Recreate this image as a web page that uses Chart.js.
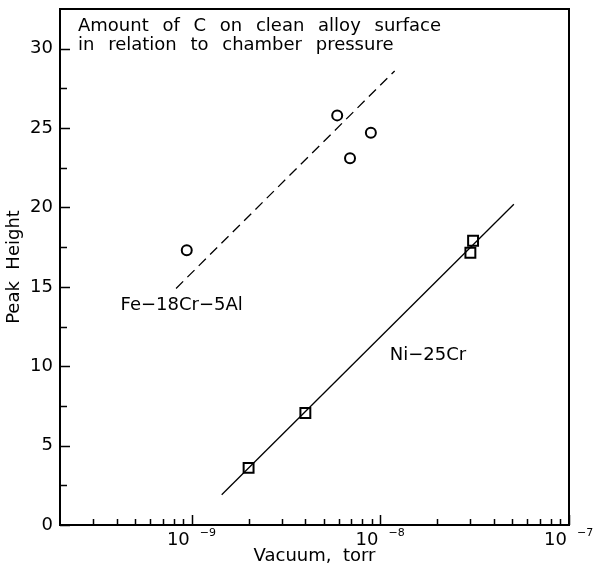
<!DOCTYPE html>
<html><head><meta charset="utf-8">
<script src="https://cdn.jsdelivr.net/npm/chart.js@4.4.1/dist/chart.umd.min.js"></script>
<style>html,body{margin:0;padding:0;background:#fff;} #wrap{width:593px;height:567px;position:relative}</style>
</head><body><div id="wrap"><canvas id="c"></canvas></div>
<script>
// ---- data ----
const feVacuum = [9.4e-10, 5.9e-9, 6.9e-9, 8.9e-9];
const fePeak = [17.3, 25.8, 23.1, 24.7];
const feFitVacuum = [8.25e-10, 1.19e-8];
const feFitPeak = [14.9, 28.6];
const niVacuum = [2.0e-9, 4.0e-9, 3.0e-8, 3.1e-8];
const niPeak = [3.6, 7.05, 17.15, 17.9];
const niFitVacuum = [1.44e-9, 5.1e-8];
const niFitPeak = [1.9, 20.2];

const xMajorTicks = [1e-9, 1e-8, 1e-7];
const xMajorExponents = ['\u22129', '\u22128', '\u22127'];
const xMinorTicks = [3e-10, 4e-10, 5e-10, 6e-10, 7e-10, 8e-10, 9e-10,
  2e-9, 3e-9, 4e-9, 5e-9, 6e-9, 7e-9, 8e-9, 9e-9,
  2e-8, 3e-8, 4e-8, 5e-8, 6e-8, 7e-8, 8e-8, 9e-8];
const yMajorTicks = [0, 5, 10, 15, 20, 25, 30];
const yMinorTicks = [2.5, 7.5, 12.5, 17.5, 22.5, 27.5];

const titleLines = ['Amount of C on clean alloy surface', 'in relation to chamber pressure'];
const seriesLabels = [
  {text: 'Fe\u221218Cr\u22125Al', x: 4.19e-10, y: 13.57},
  {text: 'Ni\u221225Cr', x: 1.12e-8, y: 10.4}
];
const xTitle = 'Vacuum,  torr';
const yTitle = 'Peak  Height';

const FONT = '"DejaVu Sans", sans-serif';
const toPts = (xs, ys) => xs.map((x, i) => ({x: x, y: ys[i]}));

const decor = {
  id: 'decor',
  afterDraw(chart) {
    const ctx = chart.ctx, a = chart.chartArea;
    const xs = chart.scales.x, ys = chart.scales.y;
    ctx.save();
    ctx.strokeStyle = '#000';
    ctx.fillStyle = '#000';
    // inward tick marks
    ctx.lineWidth = 1.5;
    ctx.beginPath();
    xMinorTicks.forEach(v => { const p = Math.round(xs.getPixelForValue(v)) + 0.5; ctx.moveTo(p, a.bottom); ctx.lineTo(p, a.bottom - 6); });
    xMajorTicks.forEach(v => { const p = Math.round(xs.getPixelForValue(v)) + 0.5; ctx.moveTo(p, a.bottom); ctx.lineTo(p, a.bottom - 10); });
    yMinorTicks.forEach(v => { const p = Math.round(ys.getPixelForValue(v)) + 0.5; ctx.moveTo(a.left, p); ctx.lineTo(a.left + 7, p); });
    yMajorTicks.forEach(v => { const p = Math.round(ys.getPixelForValue(v)) + 0.5; ctx.moveTo(a.left, p); ctx.lineTo(a.left + 10, p); });
    ctx.stroke();
    // frame
    ctx.lineWidth = 2;
    ctx.strokeRect(a.left, a.top, a.right - a.left, a.bottom - a.top);
    // x tick labels 10^n
    xMajorTicks.forEach((v, i) => {
      const p = xs.getPixelForValue(v);
      ctx.font = '18px ' + FONT;
      ctx.textAlign = 'right'; ctx.textBaseline = 'alphabetic';
      ctx.fillText('10', p - 2, a.bottom + 20);
      ctx.font = '11px ' + FONT;
      ctx.textAlign = 'left';
      ctx.fillText(xMajorExponents[i], p + 8, a.bottom + 11);
    });
    // title inside plot
    ctx.font = '18px ' + FONT;
    ctx.textAlign = 'left'; ctx.textBaseline = 'alphabetic';
    try { ctx.wordSpacing = '8px'; } catch (e) {}
    titleLines.forEach((t, i) => ctx.fillText(t, a.left + 18, a.top + 22 + i * 19));
    try { ctx.wordSpacing = '0px'; } catch (e) {}
    // series labels
    ctx.font = '18px ' + FONT;
    seriesLabels.forEach(l => ctx.fillText(l.text, xs.getPixelForValue(l.x), ys.getPixelForValue(l.y)));
    ctx.restore();
  }
};

new Chart(document.getElementById('c'), {
  type: 'scatter',
  data: {
    datasets: [
      {label: 'Fe-18Cr-5Al fit', data: toPts(feFitVacuum, feFitPeak), showLine: true, borderColor: '#000', borderWidth: 1.3, borderDash: [10, 6], pointRadius: 0},
      {label: 'Ni-25Cr fit', data: toPts(niFitVacuum, niFitPeak), showLine: true, borderColor: '#000', borderWidth: 1.3, pointRadius: 0},
      {label: 'Fe-18Cr-5Al', data: toPts(feVacuum, fePeak), pointStyle: 'circle', pointRadius: 5, borderColor: '#000', borderWidth: 2, backgroundColor: 'rgba(0,0,0,0)'},
      {label: 'Ni-25Cr', data: toPts(niVacuum, niPeak), pointStyle: 'rect', pointRadius: 7, borderColor: '#000', borderWidth: 2, backgroundColor: 'rgba(0,0,0,0)'}
    ]
  },
  options: {
    responsive: true, maintainAspectRatio: false, animation: false,
    layout: {padding: {left: 0, right: 24, top: 7, bottom: 0}},
    plugins: {legend: {display: false}, tooltip: {enabled: false}},
    scales: {
      x: {
        type: 'logarithmic', min: 2e-10, max: 1e-7,
        grid: {display: false, drawTicks: false}, border: {display: false},
        ticks: {display: false},
        title: {display: true, text: xTitle, color: '#000', font: {family: FONT, size: 18}, padding: {top: 0, bottom: 0}},
        afterFit(s) { s.height = 42; s.paddingLeft = 0; s.paddingRight = 0; }
      },
      y: {
        type: 'linear', min: 0, max: 32.5,
        grid: {display: false, drawTicks: false}, border: {display: false},
        ticks: {stepSize: 5, includeBounds: false, color: '#000', padding: 7, font: {family: FONT, size: 18}},
        title: {display: true, text: yTitle, color: '#000', font: {family: FONT, size: 18}, padding: {top: 4, bottom: 0}},
        afterFit(s) { s.width = 60; s.paddingTop = 0; s.paddingBottom = 0; }
      }
    }
  },
  plugins: [decor]
});
</script></body></html>
